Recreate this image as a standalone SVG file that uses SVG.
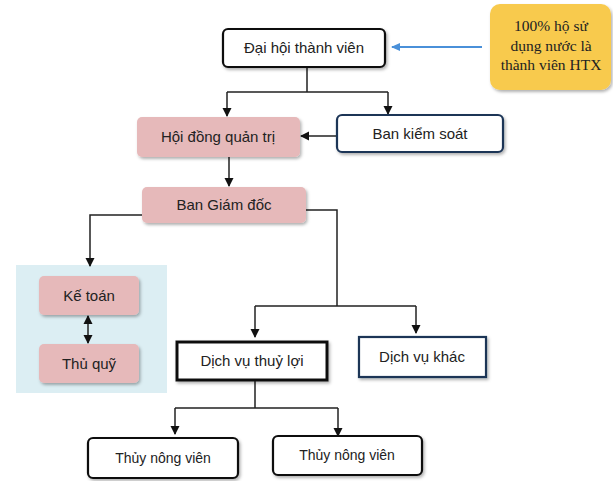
<svg xmlns="http://www.w3.org/2000/svg" width="613" height="481" viewBox="0 0 613 481">
<style>
text{font-family:"Liberation Sans",Arial,sans-serif;font-size:15px;fill:#222;text-anchor:middle}
.serif{font-family:"Liberation Serif","Times New Roman",serif;font-size:15.5px;fill:#222}
.sm{font-size:14px}
.pink{fill:#E6B9BA;stroke:none}
.wb{fill:#fff;stroke:#111;stroke-width:2.2}
.nb{fill:#fff;stroke:#1d3457;stroke-width:2.2}
.c{fill:none;stroke:#222;stroke-width:1.5}
</style>
<defs>
<marker id="ah" markerWidth="10" markerHeight="10" refX="8" refY="5" orient="auto" markerUnits="userSpaceOnUse"><path d="M0,0.5 L9,5 L0,9.5 Z" fill="#111"/></marker>
<marker id="ahs" markerWidth="10" markerHeight="10" refX="2" refY="5" orient="auto" markerUnits="userSpaceOnUse"><path d="M10,0.5 L1,5 L10,9.5 Z" fill="#111"/></marker>
<marker id="ab" markerWidth="10" markerHeight="10" refX="8" refY="5" orient="auto" markerUnits="userSpaceOnUse"><path d="M0,1 L9,5 L0,9 Z" fill="#4a90d9"/></marker>
<filter id="sh" x="-10%" y="-20%" width="130%" height="150%"><feDropShadow dx="1.5" dy="2" stdDeviation="1.5" flood-color="#000" flood-opacity="0.3"/></filter>
</defs>
<rect width="613" height="481" fill="#fff"/>
<rect x="16" y="265" width="151" height="128" fill="#DCEEF3"/>
<g id="connectors">
<path class="c" d="M482,47 L392,47" style="stroke:#4a90d9;stroke-width:2" marker-end="url(#ab)"/>
<path class="c" d="M307,67 V92 M227,92 H388"/>
<path class="c" d="M227,92 V116" marker-end="url(#ah)"/>
<path class="c" d="M388,92 V114" marker-end="url(#ah)"/>
<path class="c" d="M337,136 H301" marker-end="url(#ah)"/>
<path class="c" d="M229,157 V186" marker-end="url(#ah)"/>
<path class="c" d="M142,215 H90 V266" marker-end="url(#ah)"/>
<path class="c" d="M88,316 V343" marker-start="url(#ahs)" marker-end="url(#ah)"/>
<path class="c" d="M306,210 H337 V306 M255,306 H416"/>
<path class="c" d="M255,306 V337" marker-end="url(#ah)"/>
<path class="c" d="M416,306 V333" marker-end="url(#ah)"/>
<path class="c" d="M255,380 V408 M175,408 H338"/>
<path class="c" d="M175,408 V434" marker-end="url(#ah)"/>
<path class="c" d="M338,408 V436" marker-end="url(#ah)"/>
</g>
<g id="note">
<rect x="490" y="4" width="121" height="86" rx="10" fill="#F8CA4E" filter="url(#sh)"/>
<text class="serif" x="551" y="31">100% hộ sử</text>
<text class="serif" x="551" y="51">dụng nước là</text>
<text class="serif" x="551" y="70">thành viên HTX</text>
</g>
<g id="dai-hoi">
<rect class="wb" x="223" y="29" width="162" height="38" rx="5" filter="url(#sh)"/>
<text x="304" y="53">Đại hội thành viên</text>
</g>
<g id="hoi-dong">
<rect class="pink" x="137" y="117" width="163" height="40" rx="5" filter="url(#sh)"/>
<text x="218" y="142">Hội đồng quản trị</text>
</g>
<g id="ban-kiem-soat">
<rect class="nb" x="337" y="115" width="166" height="37" rx="5" filter="url(#sh)"/>
<text x="420" y="139">Ban kiểm soát</text>
</g>
<g id="ban-giam-doc">
<rect class="pink" x="142" y="187" width="164" height="36" rx="5" filter="url(#sh)"/>
<text x="224" y="210">Ban Giám đốc</text>
</g>
<g id="ke-toan">
<rect class="pink" x="39" y="276" width="100" height="39" rx="5" filter="url(#sh)"/>
<text x="89" y="301">Kế toán</text>
</g>
<g id="thu-quy">
<rect class="pink" x="39" y="344" width="100" height="39" rx="5" filter="url(#sh)"/>
<text x="89" y="369">Thủ quỹ</text>
</g>
<g id="dich-vu-thuy-loi">
<rect x="177" y="342" width="150" height="38" fill="#fff" stroke="#111" stroke-width="3" filter="url(#sh)"/>
<text x="252" y="366">Dịch vụ thuỷ lợi</text>
</g>
<g id="dich-vu-khac">
<rect class="nb" x="359" y="337" width="127" height="40" filter="url(#sh)"/>
<text x="422" y="362">Dịch vụ khác</text>
</g>
<g id="thuy-nong-vien-1">
<rect class="wb" x="88" y="438" width="150" height="40" rx="5" filter="url(#sh)"/>
<text class="sm" x="163" y="463">Thủy nông viên</text>
</g>
<g id="thuy-nong-vien-2">
<rect class="wb" x="273" y="436" width="149" height="39" rx="5" filter="url(#sh)"/>
<text class="sm" x="347" y="460">Thủy nông viên</text>
</g>
</svg>
